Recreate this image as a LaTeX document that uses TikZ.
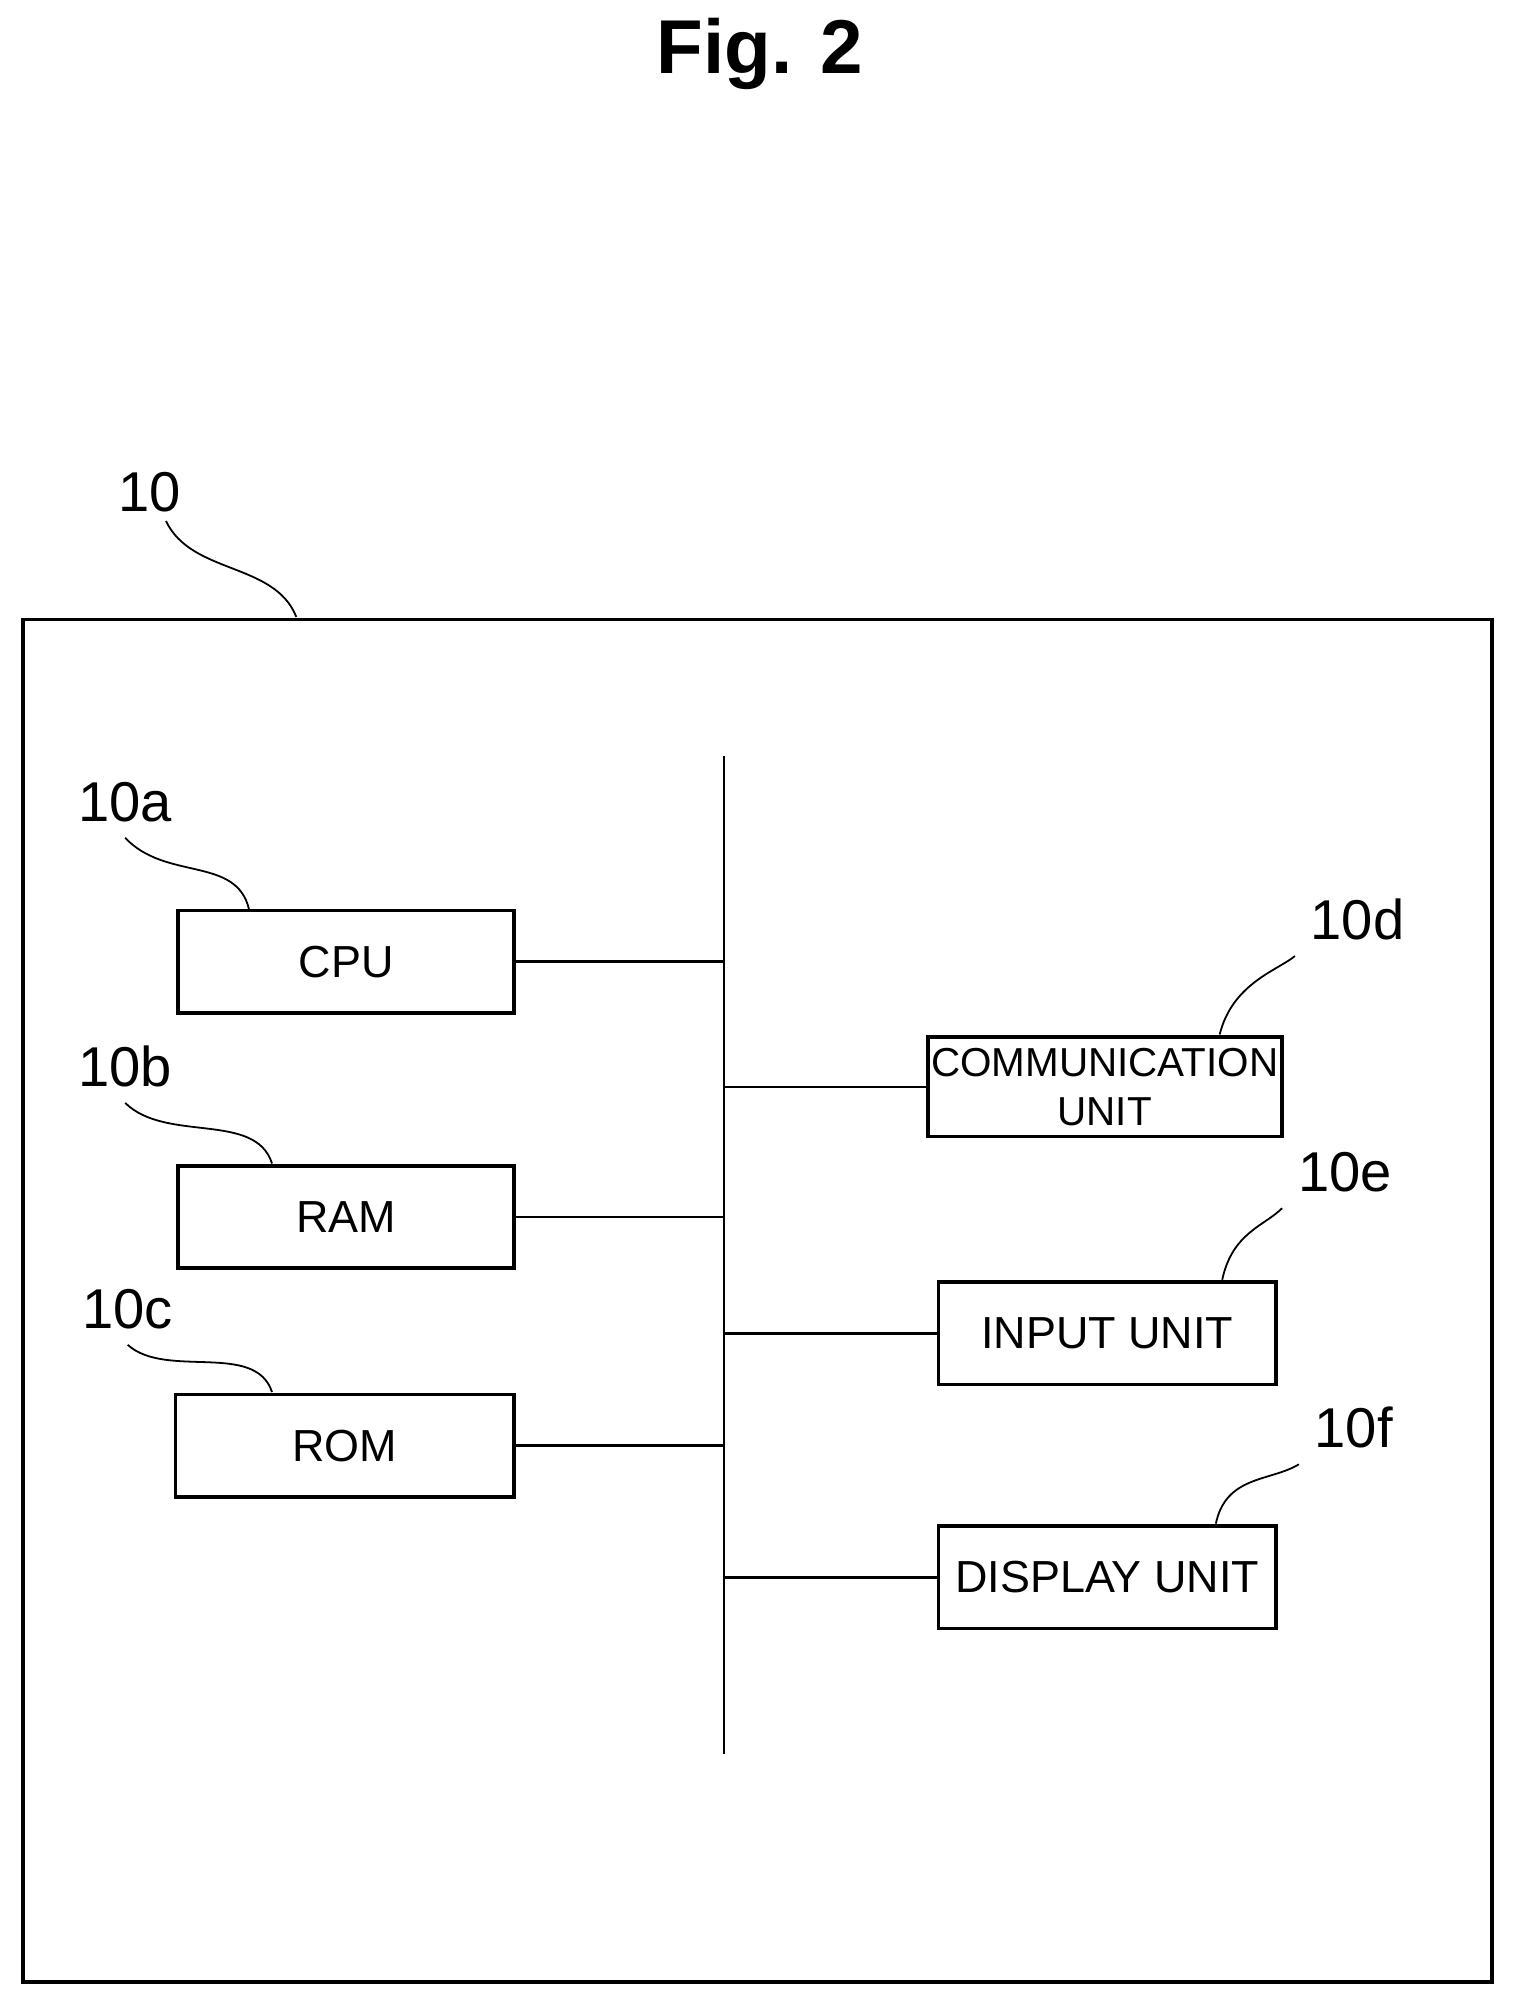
\documentclass[tikz,border=0pt]{standalone}
\usepackage{fontspec}
\setmainfont{Liberation Sans}
\usetikzlibrary{positioning}
\tikzset{
  unit/.style={draw,thick,minimum height=0.8cm,align=center,font=\fontsize{10}{10}\selectfont,inner sep=1pt},
  link/.style={draw,semithick},
  tag/.style={font=\fontsize{12.5}{12}\selectfont},
  lead/.style={draw,thin}
}
\begin{document}
\begin{tikzpicture}[x=0.01cm,y=-0.01cm]
    \useasboundingbox (0,0) rectangle (1185,1566);
    \node[font=\bfseries\fontsize{17}{17}\selectfont] (title) at (595,42) {Fig. 2};
    \draw[thick] (18,485) rectangle (1168,1552);
    \node[tag] (l10) at (117,385) {10};
    \draw[lead] (130,408) .. controls (150,450) and (215,440) .. (232,483);

    % bus
    \coordinate (bt) at (567,592);
    \coordinate (bb) at (567,1373);
    \draw[link] (bt) -- (bb);

    \node[unit,minimum width=2.63cm] (cpu) at (271,753) {CPU};
    \node[unit,minimum width=2.63cm] (ram) at (271,953) {RAM};
    \node[unit,minimum width=2.65cm] (rom) at (270,1132) {ROM};
    \node[unit,minimum width=2.77cm,minimum height=0.78cm,inner sep=0pt,
          font=\fontsize{9}{11}\selectfont] (comm) at (865,851) {COMMUNICATION\\UNIT};
    \node[unit,minimum width=2.64cm] (inp) at (867,1044) {INPUT UNIT};
    \node[unit,minimum width=2.64cm] (disp) at (867,1235) {DISPLAY UNIT};

    \draw[link] (cpu.east) -- (cpu.east -| bt);
    \draw[link] (ram.east) -- (ram.east -| bt);
    \draw[link] (rom.east) -- (rom.east -| bt);
    \draw[link] (comm.west) -- (comm.west -| bt);
    \draw[link] (inp.west) -- (inp.west -| bt);
    \draw[link] (disp.west) -- (disp.west -| bt);

    % reference labels
    \node[tag] (la) at (98,628) {10a};
    \node[tag] (lb) at (98,835) {10b};
    \node[tag] (lc) at (100,1025) {10c};
    \node[tag] (ld) at (1063,720) {10d};
    \node[tag] (le) at (1053,918) {10e};
    \node[tag] (lf) at (1060,1118) {10f};
    \draw[lead] (la.south) .. controls (130,690) and (185,670) .. (195,712);
    \draw[lead] (lb.south) .. controls (130,895) and (200,870) .. (213,911);
    \draw[lead] (lc.south) .. controls (130,1080) and (200,1050) .. (213,1090);
    \draw[lead] (ld.south west) .. controls (1000,760) and (965,770) .. (955,810);
    \draw[lead] (le.south west) .. controls (990,960) and (965,965) .. (957,1002);
    \draw[lead] (lf.south west) .. controls (995,1160) and (960,1155) .. (952,1193);
\end{tikzpicture}
\end{document}
